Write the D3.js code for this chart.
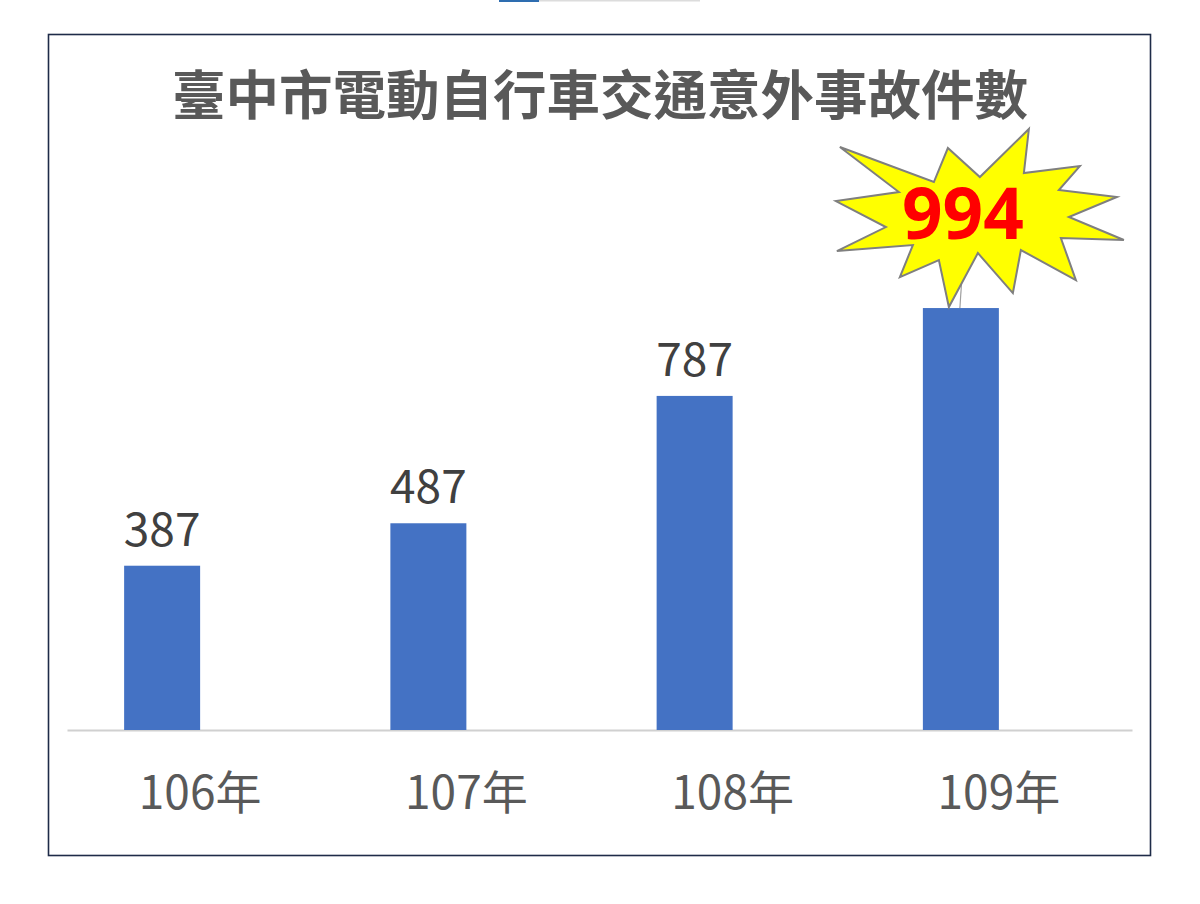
<!DOCTYPE html>
<html><head><meta charset="utf-8">
<script src="https://cdn.jsdelivr.net/npm/d3@7"></script>
<style>html,body{margin:0;padding:0;background:#fff;}svg{display:block;}</style>
</head><body>
<svg id="c" width="1200" height="904"></svg>
<script>
const title = "臺中市電動自行車交通意外事故件數";
const categories = ["106年", "107年", "108年", "109年"];
const values = [387, 487, 787, 994];
const highlightIndex = 3;
// starburst outline as offsets from its centre (decoration)
const burstOffsets = [
  [-136,-68],[-42,-33],[-28,-67],[4,-38],[53,-86],[48,-42],[104,-49],[83,-25],
  [141,-18],[93,2],[148,25],[85,23],[100,65],[45,35],[37,78],[2,38],[-27,92],
  [-37,45],[-76,62],[-63,30],[-139,36],[-90,12],[-140,-14],[-77,-23]
];

const svg = d3.select("#c");

// scroll-like fragment at top
svg.append("rect").attr("x",539).attr("y",0).attr("width",161).attr("height",1.5).attr("fill","#dcdcdc");
svg.append("rect").attr("x",499).attr("y",0).attr("width",40).attr("height",2).attr("fill","#2e6db0");

// frame
svg.append("rect").attr("x",48.5).attr("y",34.5).attr("width",1102).attr("height",821)
  .attr("fill","#fff").attr("stroke","#1e2b48").attr("stroke-width",1.6);

// title
svg.append("text").attr("x",600).attr("y",91).attr("text-anchor","middle")
  .attr("dominant-baseline","central")
  .style("font-family","'Noto Sans CJK TC','Noto Sans CJK SC',sans-serif")
  .style("font-weight","700").style("font-size","53.5px").attr("fill","#595959")
  .text(title);

const x = d3.scaleBand().domain(categories).range([67,1132]).paddingInner(0).paddingOuter(0);
const y = d3.scaleLinear().domain([0,1000]).range([730,305.5]);
const barW = 76;

// baseline axis
const axis = d3.axisBottom(x).tickSize(0).tickPadding(0);
const gAxis = svg.append("g").attr("transform","translate(0,730)").call(axis);
gAxis.select(".domain").attr("stroke","#d0d0d0").attr("stroke-width",2);
gAxis.selectAll(".tick text")
  .attr("dy",0).attr("y",79)
  .style("font-family","'Noto Sans CJK TC','Noto Sans CJK SC',sans-serif")
  .style("font-size","46px").attr("fill","#595959");

const cx = d => x(d) + x.bandwidth()/2 - barW/2;

svg.append("g").selectAll("rect").data(values).join("rect")
  .attr("x",(d,i)=>cx(categories[i]) - barW/2)
  .attr("y",d=>y(d)).attr("width",barW).attr("height",d=>y(0)-y(d))
  .attr("fill","#4472c4");

svg.append("g").selectAll("text").data(values.filter((d,i)=>i!==highlightIndex)).join("text")
  .attr("x",(d,i)=>cx(categories[i])).attr("y",d=>y(d)-20)
  .attr("text-anchor","middle")
  .style("font-family","'Noto Sans CJK TC','Noto Sans CJK SC',sans-serif")
  .style("font-size","46px").attr("fill","#404040")
  .text(d=>d);

// highlight callout
const hv = values[highlightIndex];
const hx = cx(categories[highlightIndex]);
const bcx = hx + 15, bcy = y(hv) - 93;
svg.append("line").attr("x1",hx-1).attr("y1",y(hv)).attr("x2",hx+2).attr("y2",y(hv)-45)
  .attr("stroke","#a0a0a0").attr("stroke-width",1.2);
svg.append("path")
  .attr("d", d3.line()(burstOffsets.map(p=>[bcx+p[0], bcy+p[1]])) + "Z")
  .attr("fill","#ffff00").attr("stroke","#7f7f7f").attr("stroke-width",2);
svg.append("text").attr("x",hx+2).attr("y",y(hv)-69).attr("text-anchor","middle")
  .style("font-family","'Open Sans','Liberation Sans',sans-serif")
  .style("font-weight","700").style("font-size","71px").attr("fill","#ff0000")
  .text(hv);
</script>
</body></html>
